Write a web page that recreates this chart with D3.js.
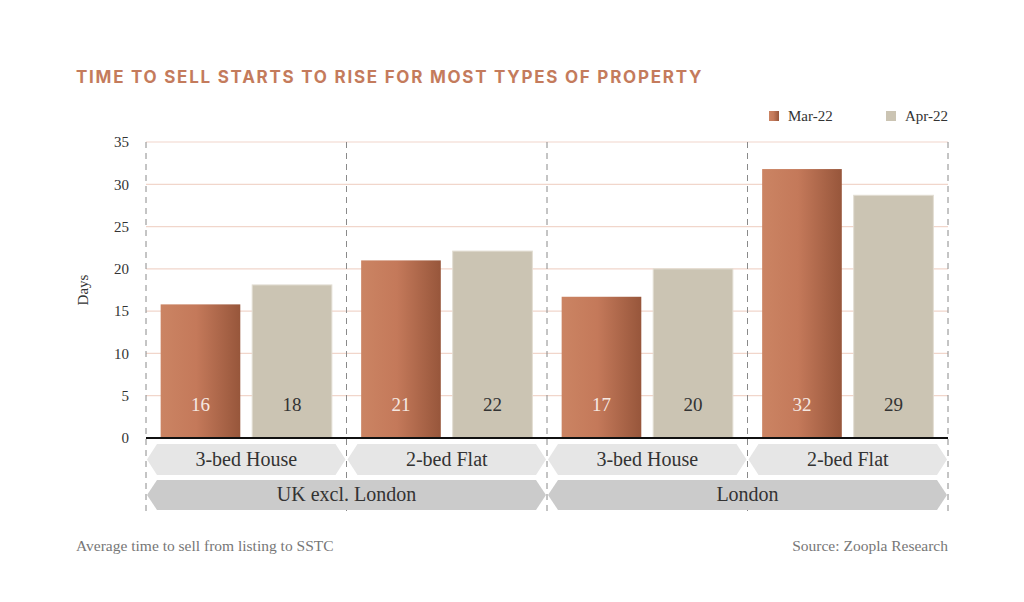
<!DOCTYPE html>
<html>
<head>
<meta charset="utf-8">
<script src="https://cdn.jsdelivr.net/npm/d3@7"></script>
<style>
  body { margin: 0; background: #fff; }
  svg { display: block; }
</style>
</head>
<body>
<div id="chart"></div>
<script>
// data
const regions = ["UK excl. London", "London"];
const types = ["3-bed House", "2-bed Flat"];
const seriesNames = ["Mar-22", "Apr-22"];
const mar22 = [15.8, 21.0, 16.7, 31.8];
const apr22 = [18.1, 22.1, 20.0, 28.7];
const yTicks = [0, 5, 10, 15, 20, 25, 30, 35];

const W = 1024, H = 602;
const margin = {top: 142, left: 146, right: 76};
const plotH = 296;
const plotW = W - margin.left - margin.right;

const svg = d3.select("#chart").append("svg")
    .attr("width", W).attr("height", H);

const serif = "'Liberation Serif', 'DejaVu Serif', serif";

// categories: region + type
const cats = [];
regions.forEach(r => types.forEach(t => cats.push({region: r, type: t})));
cats.forEach((c, i) => { c.key = i; c.mar = mar22[i]; c.apr = apr22[i]; });

const x = d3.scaleBand()
    .domain(cats.map(d => d.key))
    .range([margin.left, margin.left + plotW]);

const xInner = d3.scaleBand()
    .domain(seriesNames)
    .range([0, x.bandwidth()])
    .paddingInner(0.13)
    .paddingOuter(0.16);

const y = d3.scaleLinear()
    .domain([0, 35])
    .range([margin.top + plotH, margin.top]);

// gradient for Mar bars
const defs = svg.append("defs");
const grad = defs.append("linearGradient").attr("id", "marGrad")
    .attr("x1", "0%").attr("x2", "100%").attr("y1", "0%").attr("y2", "0%");
grad.append("stop").attr("offset", "0%").attr("stop-color", "#cb8463");
grad.append("stop").attr("offset", "45%").attr("stop-color", "#c4795a");
grad.append("stop").attr("offset", "100%").attr("stop-color", "#97563b");

const colors = {"Mar-22": "url(#marGrad)", "Apr-22": "#cbc4b3"};

// title
svg.append("text")
    .attr("x", 76).attr("y", 83)
    .style("font-family", "Inter, 'Noto Sans', sans-serif")
    .style("font-weight", "700")
    .style("font-size", "17px")
    .style("letter-spacing", "1.75px")
    .style("fill", "#c47b5c")
    .text("TIME TO SELL STARTS TO RISE FOR MOST TYPES OF PROPERTY");

// legend
const legendX = [769, 886];
seriesNames.forEach((s, i) => {
    svg.append("rect")
        .attr("x", legendX[i]).attr("y", 111)
        .attr("width", 10).attr("height", 10)
        .attr("fill", colors[s]);
    svg.append("text")
        .attr("x", legendX[i] + 19).attr("y", 121)
        .style("font-family", serif)
        .style("font-size", "15px")
        .style("fill", "#333")
        .text(s);
});

// gridlines
svg.append("g").selectAll("line")
    .data(yTicks.filter(d => d > 0))
    .join("line")
    .attr("x1", margin.left).attr("x2", margin.left + plotW)
    .attr("y1", d => y(d)).attr("y2", d => y(d))
    .attr("stroke", "#f1d6cb").attr("stroke-width", 1.2);

// y axis labels
const yAxis = d3.axisLeft(y).tickValues(yTicks).tickSize(0).tickPadding(17);
const yg = svg.append("g")
    .attr("transform", "translate(" + margin.left + ",0)")
    .call(yAxis);
yg.select(".domain").remove();
yg.selectAll("text")
    .style("font-family", serif)
    .style("font-size", "15px")
    .style("fill", "#333");

svg.append("text")
    .attr("transform", "translate(88," + (margin.top + plotH / 2) + ") rotate(-90)")
    .style("text-anchor", "middle")
    .style("font-family", serif)
    .style("font-size", "15px")
    .style("fill", "#333")
    .text("Days");

// dashed separators
const sepX = cats.map(d => x(d.key)).concat([margin.left + plotW]);
svg.append("g").selectAll("line")
    .data(sepX)
    .join("line")
    .attr("x1", d => d).attr("x2", d => d)
    .attr("y1", margin.top).attr("y2", 512)
    .attr("stroke", "#8a8a8a")
    .attr("stroke-width", 1)
    .attr("stroke-dasharray", "6,5");

// bars
const groups = svg.append("g").selectAll("g")
    .data(cats)
    .join("g")
    .attr("transform", d => "translate(" + x(d.key) + ",0)");

const barData = d => [
    {s: "Mar-22", v: d.mar},
    {s: "Apr-22", v: d.apr}
];

groups.selectAll("rect")
    .data(barData)
    .join("rect")
    .attr("x", d => xInner(d.s))
    .attr("width", xInner.bandwidth())
    .attr("y", d => y(d.v))
    .attr("height", d => y(0) - y(d.v))
    .attr("fill", d => colors[d.s])
    .attr("stroke", d => d.s === "Apr-22" ? "#e2ddd2" : "none")
    .attr("stroke-width", 1);

groups.selectAll(".val")
    .data(barData)
    .join("text")
    .attr("class", "val")
    .attr("x", d => xInner(d.s) + xInner.bandwidth() / 2)
    .attr("y", 411)
    .style("text-anchor", "middle")
    .style("font-family", serif)
    .style("font-size", "19px")
    .style("fill", d => d.s === "Mar-22" ? "#f6e9e2" : "#333")
    .text(d => Math.round(d.v));

// baseline
svg.append("line")
    .attr("x1", margin.left).attr("x2", margin.left + plotW)
    .attr("y1", y(0)).attr("y2", y(0))
    .attr("stroke", "#111").attr("stroke-width", 2.2);

// chevron label shapes
function chevron(x0, x1, y0, h, inset) {
    const m = y0 + h / 2;
    return "M" + x0 + "," + m +
        " L" + (x0 + inset) + "," + y0 +
        " L" + (x1 - inset) + "," + y0 +
        " L" + x1 + "," + m +
        " L" + (x1 - inset) + "," + (y0 + h) +
        " L" + (x0 + inset) + "," + (y0 + h) + " Z";
}

// type labels
const typeG = svg.append("g").selectAll("g")
    .data(cats)
    .join("g");
typeG.append("path")
    .attr("d", d => chevron(x(d.key) + 1, x(d.key) + x.bandwidth() - 1, 444, 31, 10))
    .attr("fill", "#e6e6e6");
typeG.append("text")
    .attr("x", d => x(d.key) + x.bandwidth() / 2)
    .attr("y", 466)
    .style("text-anchor", "middle")
    .style("font-family", serif)
    .style("font-size", "20px")
    .style("fill", "#333")
    .text(d => d.type);

// region labels
const regG = svg.append("g").selectAll("g")
    .data(regions)
    .join("g");
const regStart = r => x(cats.find(c => c.region === r).key);
const regEnd = r => x(cats.filter(c => c.region === r).slice(-1)[0].key) + x.bandwidth();
regG.append("path")
    .attr("d", r => chevron(regStart(r) + 1, regEnd(r) - 1, 480, 30, 10))
    .attr("fill", "#cbcbcb");
regG.append("text")
    .attr("x", r => (regStart(r) + regEnd(r)) / 2)
    .attr("y", 501)
    .style("text-anchor", "middle")
    .style("font-family", serif)
    .style("font-size", "20px")
    .style("fill", "#333")
    .text(r => r);

// footer
svg.append("text")
    .attr("x", 76).attr("y", 551)
    .style("font-family", serif)
    .style("font-size", "15.5px")
    .style("fill", "#777")
    .text("Average time to sell from listing to SSTC");

svg.append("text")
    .attr("x", margin.left + plotW).attr("y", 551)
    .style("text-anchor", "end")
    .style("font-family", serif)
    .style("font-size", "15.5px")
    .style("fill", "#777")
    .text("Source: Zoopla Research");
</script>
</body>
</html>
